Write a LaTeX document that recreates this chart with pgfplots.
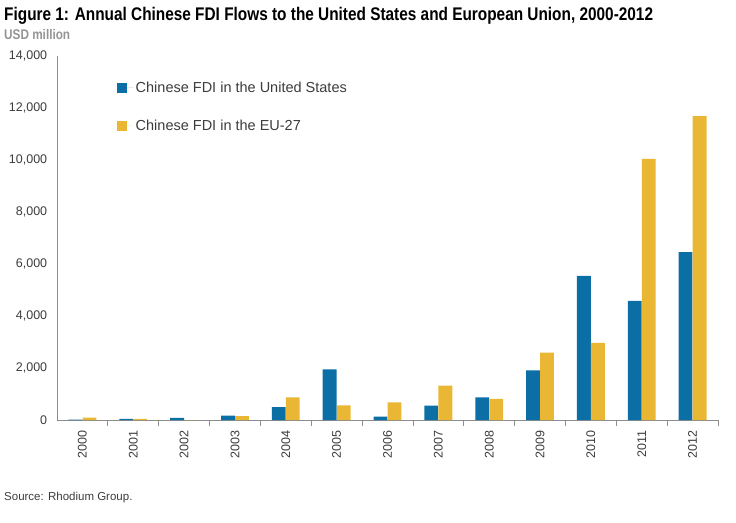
\documentclass[border=0pt]{standalone}
\usepackage{fontspec}
\setmainfont{Liberation Sans}
\newfontfamily\titlefont{Liberation Sans}[FakeStretch=0.84]
\usepackage{pgfplots}
\usepackage{pgfplotstable}
\pgfplotsset{compat=1.18}
\definecolor{usblue}{HTML}{0B6FA6}
\definecolor{euyellow}{HTML}{E9B733}
\definecolor{axgray}{HTML}{8C8C8C}
\definecolor{txtgray}{HTML}{3C3C3C}
\pgfplotstableread{
x us eu
0 10 90
1 40 40
2 80 0
3 165 150
4 500 870
5 1950 565
6 130 680
7 550 1320
8 870 810
9 1910 2590
10 5540 2970
11 4580 10040
12 6460 11690
}\data
\begin{document}
\begin{tikzpicture}
\path (0pt,0pt) rectangle (736pt,-522pt);
\node[anchor=base west, inner sep=0pt, font=\titlefont\bfseries\fontsize{18.3}{20}\selectfont] at (4pt,-20pt) {Figure 1: Annual Chinese FDI Flows to the United States and European Union, 2000-2012};
\node[anchor=base west, inner sep=0pt, text=black!42, font=\titlefont\bfseries\fontsize{14}{16}\selectfont] at (4pt,-39pt) {USD million};
\node[anchor=base west, inner sep=0pt, text=txtgray, font=\fontsize{11.5}{14}\selectfont] at (4pt,-500pt) {Source: Rhodium Group.};
\begin{axis}[
  at={(57pt,-420pt)}, anchor=south west, scale only axis,
  width=661pt, height=364pt,
  xmin=-0.5, xmax=12.5, ymin=0, ymax=14000,
  axis x line*=bottom, axis y line*=left,
  axis line style={axgray, line width=0.8pt},
  xtick={0,...,12},
  xticklabels={2000,2001,2002,2003,2004,2005,2006,2007,2008,2009,2010,2011,2012},
  major x tick style={draw=none},
  minor xtick={0.5,1.5,...,12.5},
  minor x tick style={axgray, line width=0.8pt},
  minor tick length=6pt,
  tick align=outside,
  x tick label style={rotate=90, anchor=east, font=\fontsize{12.5}{14}\selectfont, text=txtgray},
  xticklabel shift=3pt,
  ytick={0,2000,...,14000},
  y tick style={draw=none},
  y tick label style={font=\fontsize{12.5}{14}\selectfont, text=txtgray},
  yticklabel shift=2pt,
  /pgf/number format/.cd, 1000 sep={,}, assume math mode=true, /pgfplots/.cd,
  scaled y ticks=false,
  ybar, bar width=0.272, 
  legend style={at={(0.09,0.935)}, anchor=north west, draw=none, fill=none,
    font=\fontsize{14.5}{16}\selectfont, text=txtgray, row sep=22pt,
    inner sep=0pt},
  legend cell align=left,
  legend image code/.code={\fill[#1] (0pt,-5pt) rectangle (10pt,5pt); \path (0pt,0pt) -- (17pt,0pt);},
]
\addplot[fill=usblue, draw=none, bar shift=-0.138] table[x=x, y=us] {\data};
\addlegendentry{Chinese FDI in the United States}
\addplot[fill=euyellow, draw=none, bar shift=0.138] table[x=x, y=eu] {\data};
\addlegendentry{Chinese FDI in the EU-27}
\end{axis}
\end{tikzpicture}
\end{document}
